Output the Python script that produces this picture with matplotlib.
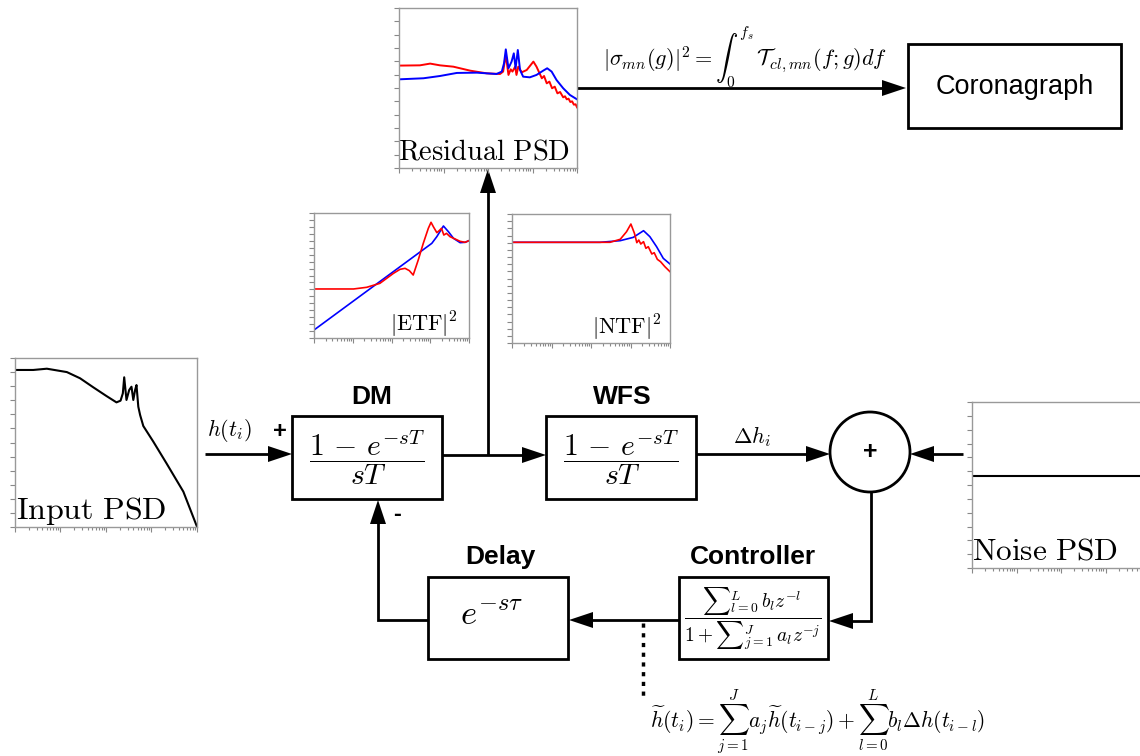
import numpy as np
import matplotlib
matplotlib.use('Agg')
import matplotlib.pyplot as plt
from matplotlib.patches import Rectangle, Circle, Polygon
from matplotlib.ticker import MultipleLocator, LogLocator, NullFormatter

plt.rcParams['mathtext.fontset'] = 'cm'
plt.rcParams['font.family'] = ['Liberation Sans', 'DejaVu Sans']

W, H = 1140, 756

# PSD / transfer-function curves: x = log10(f), y = arbitrary log units
input_logf = [0, 0.40, 0.70, 1.14, 1.43, 1.72, 2.01, 2.23, 2.32, 2.37, 2.40, 2.45, 2.51, 2.56,
              2.60, 2.64, 2.67, 2.71, 2.75, 2.82, 3.04, 3.33, 3.70, 4.0]
input_psd = [11.15, 11.15, 11.24, 11.0, 10.56, 9.92, 9.3, 8.85, 8.97, 9.49, 10.63, 9.02, 9.73, 9.96,
             9.02, 9.73, 10.08, 8.54, 7.95, 7.17, 6.06, 4.52, 2.51, 0.02]

noise_logf = [0, 4]
noise_psd = [6.65, 6.65]

res_logf_b = [0, 0.55, 0.92, 1.30, 1.75, 2.19, 2.31, 2.36, 2.40, 2.46, 2.53, 2.58, 2.62, 2.67, 2.72,
              2.79, 2.94, 3.09, 3.24, 3.33, 3.43, 3.54, 3.69, 3.84, 4.0]
res_b = [6.65, 6.73, 6.9, 7.13, 7.15, 7.05, 7.23, 7.85, 8.9, 7.48, 7.98, 8.6, 7.48, 8.85, 7.35,
         6.85, 6.8, 6.98, 7.3, 7.48, 7.23, 6.6, 5.98, 5.48, 5.15]
res_logf_r = [0, 0.47, 0.70, 0.92, 1.22, 1.60, 1.97, 2.27, 2.34, 2.40, 2.46, 2.51, 2.55, 2.61, 2.64,
              2.68, 2.76, 2.87, 3.02, 3.09, 3.21, 3.26, 3.32, 3.38, 3.44, 3.50, 3.56, 3.62, 3.69,
              3.73, 3.77, 3.81, 3.85, 3.89, 3.93, 3.97, 4.0]
res_r = [7.68, 7.7, 7.83, 7.7, 7.6, 7.3, 7.1, 7.05, 7.23, 8.48, 6.98, 7.4, 7.23, 7.6, 6.98,
         7.6, 7.18, 7.35, 7.98, 7.6, 6.73, 6.9, 6.35, 6.48, 5.98, 6.1, 5.6, 5.7, 5.3,
         5.38, 5.15, 5.2, 4.95, 5.0, 4.75, 4.78, 4.55]

etf_logf_b = [0, 3.04, 3.17, 3.34, 3.47, 3.6, 3.77, 3.9, 4.0]
etf_b = [1.15, 13.63, 14.6, 16.13, 15.3, 14.35, 13.73, 13.78, 14.02]
etf_logf_r = [0, 1.02, 1.36, 1.70, 2.05, 2.22, 2.35, 2.46, 2.56, 2.69, 2.82, 2.95, 3.02, 3.08,
              3.17, 3.23, 3.29, 3.35, 3.42, 3.51, 3.64, 3.77, 3.9, 4.0]
etf_r = [7.06, 7.06, 7.3, 7.87, 9.31, 9.89, 10.03, 9.7, 9.07, 11.23, 13.63, 15.79, 16.66, 16.03,
         15.17, 15.46, 15.79, 14.83, 15.07, 14.59, 14.26, 13.92, 13.78, 14.02]

ntf_logf_b = [0, 2.23, 2.74, 3.07, 3.33, 3.49, 3.66, 3.83, 4.0]
ntf_b = [14.05, 14.05, 14.28, 14.74, 15.67, 14.84, 13.44, 11.81, 11.02]
ntf_logf_r = [0, 2.48, 2.74, 2.9, 3.01, 3.1, 3.16, 3.21, 3.26, 3.33, 3.39, 3.45, 3.54, 3.6,
              3.68, 3.76, 3.87, 4.0]
ntf_r = [14.05, 14.05, 14.47, 15.53, 16.6, 15.3, 14.0, 14.37, 13.81, 14.14, 13.21, 13.44, 12.42, 12.6,
         11.67, 11.35, 10.65, 9.95]

fig = plt.figure(figsize=(11.4, 7.56), dpi=100)
ax = fig.add_axes([0, 0, 1, 1])
ax.set_xlim(0, W)
ax.set_ylim(H, 0)
ax.axis('off')


def inset(x0, y0, x1, y1, ymax):
    a = fig.add_axes([x0 / W, 1 - y1 / H, (x1 - x0) / W, (y1 - y0) / H])
    a.patch.set_alpha(0)
    a.set_xscale('log')
    a.set_xlim(1, 1e4)
    a.set_ylim(0, ymax)
    a.yaxis.set_major_locator(MultipleLocator(1))
    a.xaxis.set_major_locator(LogLocator(base=10, numticks=10))
    a.xaxis.set_minor_locator(LogLocator(base=10, subs=np.arange(2, 10), numticks=10))
    a.xaxis.set_minor_formatter(NullFormatter())
    a.tick_params(which='both', direction='out', color='#888888', width=0.8, length=3.5,
                  labelleft=False, labelbottom=False)
    a.tick_params(which='minor', length=2)
    for s in a.spines.values():
        s.set_color('#999999')
        s.set_linewidth(1)
    return a


def box(x0, y0, x1, y1):
    ax.add_patch(Rectangle((x0, y0), x1 - x0, y1 - y0, fill=False, ec='k', lw=2))


def arrow(pts, L=24, w=8):
    (xa, ya), (xb, yb) = pts[-2], pts[-1]
    d = np.hypot(xb - xa, yb - ya)
    ux, uy = (xb - xa) / d, (yb - ya) / d
    bx, by = xb - ux * L, yb - uy * L
    line = list(pts[:-1]) + [(bx + ux * 2, by + uy * 2)]
    xs, ys = zip(*line)
    ax.plot(xs, ys, color='k', lw=2, solid_capstyle='butt', solid_joinstyle='miter')
    tri = [(xb, yb), (bx - uy * w, by + ux * w), (bx + uy * w, by - ux * w)]
    ax.add_patch(Polygon(tri, closed=True, color='k', lw=0))


# insets
a_in = inset(15, 358, 197, 527, 12)
a_in.plot(10 ** np.array(input_logf), input_psd, color='k', lw=1.5)

a_no = inset(972, 402, 1150, 568, 12)
a_no.plot(10 ** np.array(noise_logf), noise_psd, color='k', lw=1.5)

a_res = inset(399, 8, 577, 168, 12)
a_res.plot(10 ** np.array(res_logf_r), res_r, color='red', lw=1.4)
a_res.plot(10 ** np.array(res_logf_b), res_b, color='blue', lw=1.4)

a_etf = inset(314, 213, 469, 338, 18)
a_etf.plot(10 ** np.array(etf_logf_b), etf_b, color='blue', lw=1.2)
a_etf.plot(10 ** np.array(etf_logf_r), etf_r, color='red', lw=1.2)

a_ntf = inset(512, 214, 670, 343, 18)
a_ntf.plot(10 ** np.array(ntf_logf_b), ntf_b, color='blue', lw=1.2)
a_ntf.plot(10 ** np.array(ntf_logf_r), ntf_r, color='red', lw=1.2)

ax.text(16, 511, r'$\mathrm{Input\ PSD}$', fontsize=23, va='center', ha='left')
ax.text(972, 551, r'$\mathrm{Noise\ PSD}$', fontsize=22.5, va='center', ha='left')
ax.text(484, 152, r'$\mathrm{Residual\ PSD}$', fontsize=20.5, va='center', ha='center')
ax.text(424, 325, r'$|\mathrm{ETF}|^2$', fontsize=16, va='center', ha='center')
ax.text(627, 328, r'$|\mathrm{NTF}|^2$', fontsize=16, va='center', ha='center')

# blocks
box(292, 416, 442, 499)
box(546, 416, 696, 499)
box(428, 577, 568, 659)
box(679, 577, 828, 659)
box(908, 44, 1121, 128)
ax.add_patch(Circle((870, 452), 40, fill=False, ec='k', lw=2))

ax.text(372, 397, 'DM', fontsize=19, fontweight='bold', ha='center', va='center')
ax.text(622, 397, 'WFS', fontsize=19, fontweight='bold', ha='center', va='center')
ax.text(500, 557, 'Delay', fontsize=19, fontweight='bold', ha='center', va='center')
ax.text(753, 557, 'Controller', fontsize=19, fontweight='bold', ha='center', va='center')
ax.text(1015, 87, 'Coronagraph', fontsize=19.5, ha='center', va='center')

ax.text(367, 458, r'$\dfrac{1\,-\,e^{-sT}}{sT}$', fontsize=21.5, ha='center', va='center')
ax.text(621, 458, r'$\dfrac{1\,-\,e^{-sT}}{sT}$', fontsize=21.5, ha='center', va='center')
ax.text(492, 615, r'$e^{-s\tau}$', fontsize=25, ha='center', va='center')
ax.text(753, 619, r'$\dfrac{{\sum}_{l=0}^{L}\, b_l z^{-l}}{1+{\sum}_{j=1}^{J}\, a_l z^{-j}}$',
        fontsize=14, ha='center', va='center')

# signal lines
arrow([(205, 454), (292, 454)])
arrow([(442, 455), (546, 455)])
arrow([(488, 455), (488, 169)])
arrow([(696, 454), (830, 454)])
arrow([(963, 454), (910, 454)])
arrow([(871, 492), (871, 621), (829, 621)])
arrow([(679, 620), (569, 620)])
arrow([(428, 620), (378, 620), (378, 500)])
arrow([(577, 88), (906, 88)])
ax.plot([643, 643], [623, 698], color='k', lw=2.5, linestyle=(0, (1.2, 1.6)))

ax.text(229, 430, r'$h(t_i)$', fontsize=16, ha='center', va='center')
ax.text(280, 432, '+', fontsize=17, fontweight='bold', ha='center', va='center')
ax.text(397, 515, '-', fontsize=17, fontweight='bold', ha='center', va='center')
ax.text(870, 452, '+', fontsize=18, fontweight='bold', ha='center', va='center')
ax.text(752, 437, r'$\Delta h_i$', fontsize=16, ha='center', va='center')
ax.text(745, 57, r'$|\sigma_{mn}(g)|^2 = \int_0^{f_s}\,\mathcal{T}_{cl,mn}(f;g)df$',
        fontsize=16, ha='center', va='center')
ax.text(818, 722, r'$\widetilde{h}(t_i) = \sum_{j=1}^{J} a_j\widetilde{h}(t_{i-j})'
        r' + \sum_{l=0}^{L} b_l\Delta h(t_{i-l})$', fontsize=15.5, ha='center', va='center')

fig.savefig('out.png', dpi=100)
